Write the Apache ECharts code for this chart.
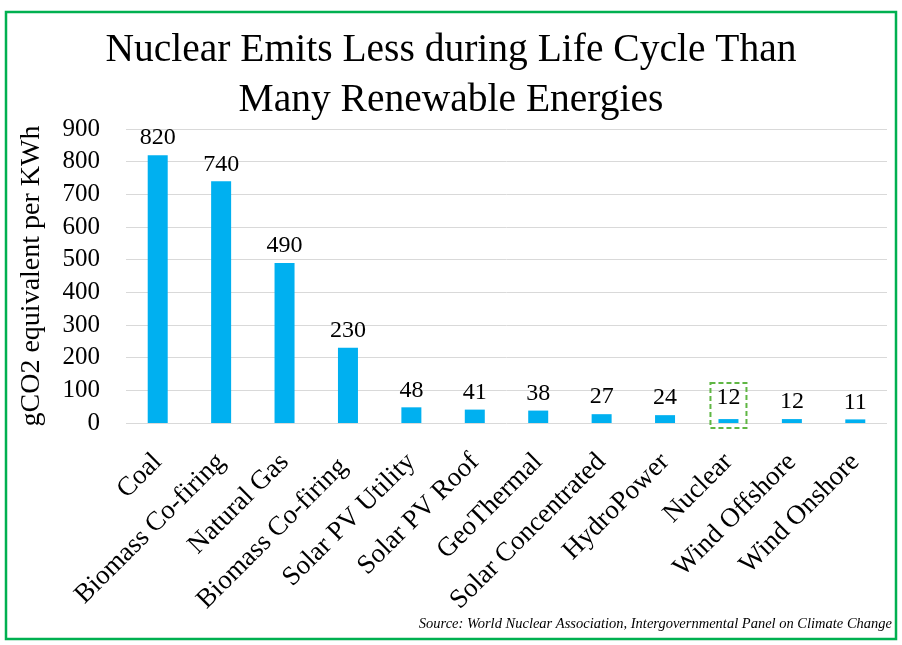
<!DOCTYPE html>
<html>
<head>
<meta charset="utf-8">
<script src="https://cdn.jsdelivr.net/npm/echarts@6/dist/echarts.min.js"></script>
<style>
html,body{margin:0;padding:0;background:#fff;}
#c{width:902px;height:645px;}
</style>
</head>
<body>
<div id="c"></div>
<script>
const categories = ['Coal','Biomass Co-firing','Natural Gas','Biomass Co-firing ','Solar PV Utility','Solar PV Roof','GeoThermal','Solar Concentrated','HydroPower','Nuclear','Wind Offshore','Wind Onshore'];
const emissions = [820, 740, 490, 230, 48, 41, 38, 27, 24, 12, 12, 11];
const highlightCategory = 'Nuclear';

const serif = '"Palatino Linotype","Book Antiqua",Palatino,"Liberation Serif","DejaVu Serif",serif';
const chart = echarts.init(document.getElementById('c'));

const data = emissions.map((v, i) => {
  const item = { value: v };
  if (categories[i] === highlightCategory) {
    item.label = {
      borderColor: '#5FB643',
      borderWidth: 2,
      borderType: [5, 3],
      padding: [3, 6, 18, 6],
      offset: [0, 14]
    };
  }
  return item;
});

chart.setOption({
  animation: false,
  title: {
    text: 'Nuclear Emits Less during Life Cycle Than\nMany Renewable Energies',
    left: 'center',
    top: 21,
    textStyle: { fontFamily: serif, fontSize: 39.5, fontWeight: 'normal', color: '#000', lineHeight: 50 }
  },
  graphic: [
    { type: 'rect', shape: { x: 6, y: 12, width: 890, height: 627 }, style: { fill: 'none', stroke: '#00B050', lineWidth: 2.5 }, silent: true },
    { type: 'text', right: 10, top: 617, style: { text: 'Source: World Nuclear Association, Intergovernmental Panel on Climate Change', font: 'italic 14.5px ' + serif, fill: '#000' } }
  ],
  grid: { left: 126, right: 15, top: 129, bottom: 222 },
  xAxis: {
    type: 'category',
    data: categories,
    axisLine: { show: false },
    axisTick: { show: false },
    axisLabel: { rotate: 45, interval: 0, margin: 35, fontFamily: serif, fontSize: 27, color: '#000' }
  },
  yAxis: {
    type: 'value',
    min: 0, max: 900, interval: 100,
    name: 'gCO2 equivalent per KWh',
    nameLocation: 'middle',
    nameGap: 80,
    nameTextStyle: { fontFamily: serif, fontSize: 28, color: '#000' },
    axisLine: { show: false },
    axisTick: { show: false },
    axisLabel: { fontFamily: serif, fontSize: 25, color: '#000', margin: 26 },
    splitLine: { lineStyle: { color: '#D9D9D9', width: 1 } }
  },
  series: [{
    type: 'bar',
    data: data,
    barWidth: 20,
    itemStyle: { color: '#00B0F0' },
    label: { show: true, position: 'top', distance: 5, fontFamily: serif, fontSize: 24, color: '#000' }
  }]
});
</script>
</body>
</html>
